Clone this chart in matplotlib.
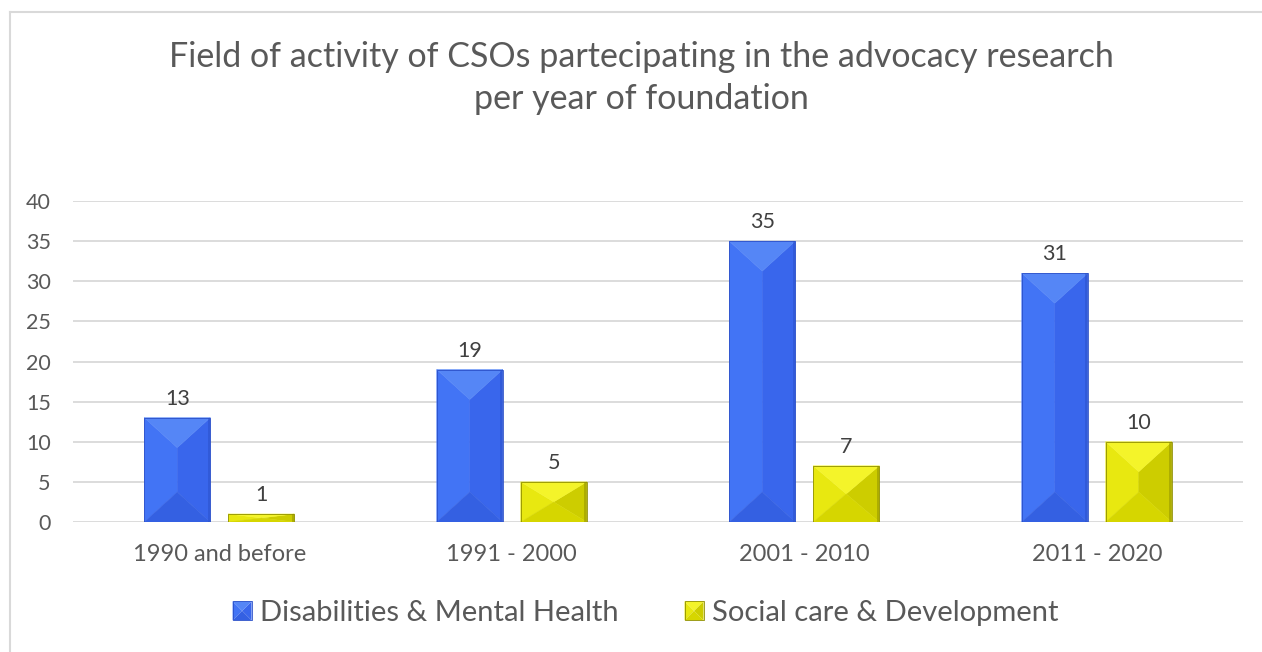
import matplotlib.pyplot as plt
import numpy as np
from matplotlib.patches import Polygon, Rectangle
from matplotlib.legend_handler import HandlerBase
from matplotlib.lines import Line2D

plt.rcParams['font.family'] = ['Lato', 'DejaVu Sans']

# ------------------------------------------------------------
# Data
# ------------------------------------------------------------
categories = ["1990 and before", "1991 - 2000", "2001 - 2010", "2011 - 2020"]
disabilities = [13, 19, 35, 31]
social_care = [1, 5, 7, 10]
series_names = ["Disabilities & Mental Health", "Social care & Development"]

title = "Field of activity of CSOs partecipating in the advocacy research\nper year of foundation"

# bevel palettes for the four facets + outline
BLUE = dict(left="#4274f5", right="#3966ec", top="#5586f6", bottom="#3460e2", edge="#2b50c8")
YELLOW = dict(left="#e8e810", right="#cdcd00", top="#f4f42a", bottom="#d6d600", edge="#8f8f00")

TEXT = "#595959"
GRID = "#d9d9d9"
FS = 15.5

W, H = 1262, 652
fig = plt.figure(figsize=(W / 100, H / 100), dpi=100)
ax = fig.add_axes([73 / W, 1 - 522 / H, (1243 - 73) / W, (522 - 201) / H])

ax.set_xlim(-0.5, len(categories) - 0.5)
ax.set_ylim(0, 40)

# pixel scales used for the bevel geometry
px_x = (1243 - 73) / len(categories)   # px per category unit
px_y = (522 - 201) / 40.0              # px per value unit

bar_w = 66 / px_x
offset = 42 / px_x


def bevel_bar(ax, xc, h, w, pal):
    if h <= 0:
        return
    x0, x1 = xc - w / 2, xc + w / 2
    d = min(30 / px_y, h / 2)   # depth of the sloped facets
    facets = [
        ([(x0, 0), (xc, d), (xc, h - d), (x0, h)], pal["left"]),
        ([(x1, 0), (xc, d), (xc, h - d), (x1, h)], pal["right"]),
        ([(x0, h), (x1, h), (xc, h - d)], pal["top"]),
        ([(x0, 0), (x1, 0), (xc, d)], pal["bottom"]),
    ]
    for pts, c in facets:
        ax.add_patch(Polygon(pts, closed=True, facecolor=c, edgecolor=c,
                             linewidth=0.3, zorder=3))
    ex = 2.5 / px_x
    ax.add_patch(Rectangle((x1 - ex, 0), ex, h, facecolor=pal["edge"], edgecolor="none",
                           alpha=0.5, zorder=4))
    ax.add_patch(Rectangle((x0, 0), w, h, facecolor="none", edgecolor=pal["edge"],
                           linewidth=0.6, zorder=5))


x = np.arange(len(categories))
for xi, v in zip(x - offset, disabilities):
    bevel_bar(ax, xi, v, bar_w, BLUE)
    ax.text(xi, v + 9 / px_y, str(v), ha="center", va="bottom", fontsize=FS, color="#404040")
for xi, v in zip(x + offset, social_care):
    bevel_bar(ax, xi, v, bar_w, YELLOW)
    ax.text(xi, v + 9 / px_y, str(v), ha="center", va="bottom", fontsize=FS, color="#404040")

ax.set_yticks(np.arange(0, 41, 5))
ax.yaxis.grid(True, color=GRID, linewidth=1.3)
ax.set_axisbelow(True)
ax.set_xticks(x)
ax.set_xticklabels(categories)
ax.tick_params(axis="both", length=0, labelsize=FS, labelcolor=TEXT)
ax.tick_params(axis="x", labelsize=17, pad=16)
ax.tick_params(axis="y", pad=16)
for s in ax.spines.values():
    s.set_visible(False)


class BevelHandler(HandlerBase):
    def __init__(self, pal):
        super().__init__()
        self.pal = pal

    def create_artists(self, legend, orig_handle, xdescent, ydescent, width, height, fontsize, trans):
        s = 19 * 72 / 100   # marker side in points
        x0 = width - s
        y0 = (height - s) / 2
        xc, yc = x0 + s / 2, y0 + s / 2
        pal = self.pal
        arts = [
            Polygon([(x0, y0), (xc, yc), (x0, y0 + s)], facecolor=pal["left"]),
            Polygon([(x0 + s, y0), (xc, yc), (x0 + s, y0 + s)], facecolor=pal["right"]),
            Polygon([(x0, y0 + s), (x0 + s, y0 + s), (xc, yc)], facecolor=pal["top"]),
            Polygon([(x0, y0), (x0 + s, y0), (xc, yc)], facecolor=pal["bottom"]),
            Rectangle((x0, y0), s, s, facecolor="none", edgecolor=pal["edge"], lw=0.6),
        ]
        for a in arts:
            a.set_transform(trans)
        return arts


h1 = Line2D([], [])
h2 = Line2D([], [])
fig.legend([h1, h2], series_names, loc="center", bbox_to_anchor=(645 / W, 1 - 613 / H),
           ncol=2, frameon=False, fontsize=21, labelcolor=TEXT,
           handler_map={h1: BevelHandler(BLUE), h2: BevelHandler(YELLOW)},
           handlelength=0.7, handletextpad=0.3, columnspacing=2.2)

fig.text(641 / W, 1 - 78 / H, title, ha="center", va="center", fontsize=24.5,
         color=TEXT, linespacing=1.35)

# chart frame
fig.add_artist(Line2D([10 / W, 10 / W], [0, 1 - 12 / H], transform=fig.transFigure,
                      color="#d9d9d9", linewidth=1.5))
fig.add_artist(Line2D([10 / W, 1], [1 - 12 / H, 1 - 12 / H], transform=fig.transFigure,
                      color="#d9d9d9", linewidth=1.5))

fig.savefig("out.png", dpi=100)
